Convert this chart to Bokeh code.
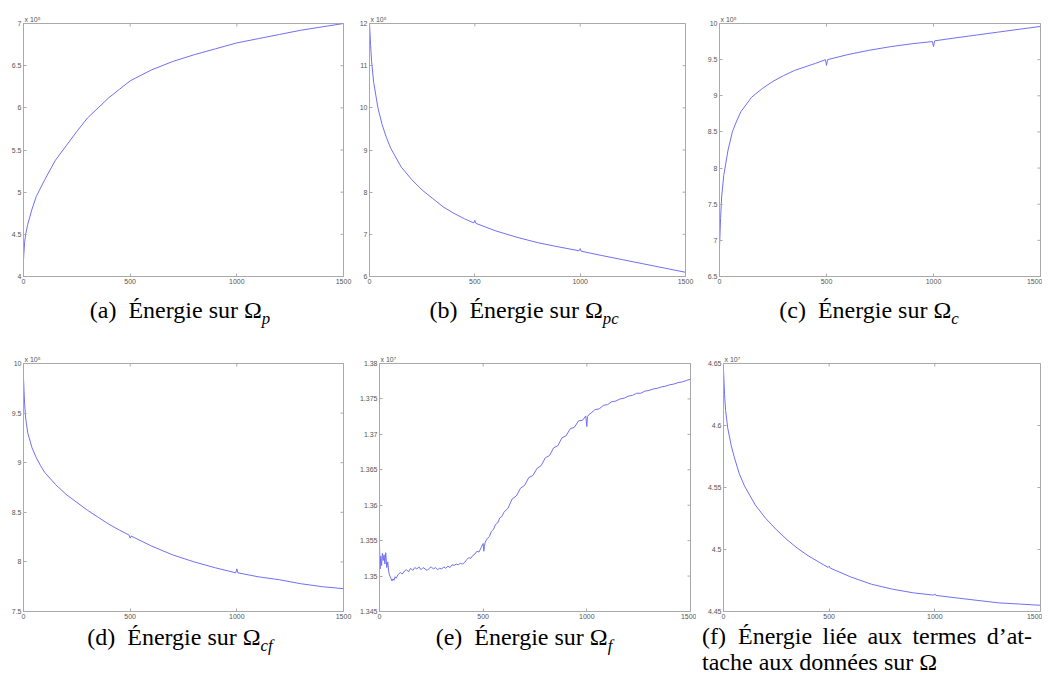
import math
from bokeh.plotting import figure
from bokeh.models import Range1d, FixedTicker, Div, Title
from bokeh.layouts import column, row
from bokeh.embed import file_html
from bokeh.resources import INLINE

# ---------------- data ----------------
x_ticks = [0, 500, 1000, 1500]

iters_a = [0, 5, 10, 20, 40, 60, 80, 100, 150, 200, 250, 300, 350, 400, 450, 500,
           600, 700, 800, 900, 1000, 1100, 1200, 1300, 1400, 1500]
energy_a = [4.2, 4.4, 4.5, 4.62, 4.8, 4.95, 5.05, 5.15, 5.38, 5.55, 5.72, 5.88, 6.0,
            6.12, 6.22, 6.32, 6.45, 6.55, 6.63, 6.7, 6.77, 6.82, 6.87, 6.92, 6.96, 7.0]
yticks_a = [4, 4.5, 5, 5.5, 6, 6.5, 7]

iters_b = [0, 5, 10, 20, 40, 60, 80, 100, 150, 200, 250, 300, 350, 400, 450, 495, 500, 505,
           600, 700, 800, 900, 995, 1000, 1005, 1100, 1200, 1300, 1400, 1500]
energy_b = [12.0, 11.5, 11.1, 10.6, 10.0, 9.6, 9.3, 9.05, 8.6, 8.3, 8.05, 7.85, 7.65, 7.5,
            7.37, 7.27, 7.33, 7.26, 7.08, 6.93, 6.8, 6.7, 6.61, 6.66, 6.6, 6.5, 6.4, 6.3, 6.2, 6.1]
yticks_b = [6, 7, 8, 9, 10, 11, 12]

iters_c = [0, 5, 10, 20, 40, 60, 80, 100, 150, 200, 250, 300, 350, 400, 450, 495, 500, 505,
           600, 700, 800, 900, 995, 1000, 1005, 1100, 1200, 1300, 1400, 1500]
energy_c = [6.9, 7.3, 7.6, 7.9, 8.25, 8.5, 8.65, 8.78, 8.98, 9.1, 9.2, 9.28, 9.35, 9.4,
            9.45, 9.5, 9.42, 9.5, 9.57, 9.63, 9.68, 9.72, 9.75, 9.68, 9.76, 9.8, 9.84, 9.88, 9.92, 9.96]
yticks_c = [6.5, 7, 7.5, 8, 8.5, 9, 9.5, 10]

iters_d = [0, 5, 10, 20, 40, 60, 80, 100, 150, 200, 250, 300, 350, 400, 450, 495, 500, 505,
           600, 700, 800, 900, 995, 1000, 1005, 1100, 1200, 1300, 1400, 1500]
energy_d = [9.85, 9.6, 9.45, 9.3, 9.15, 9.05, 8.97, 8.9, 8.78, 8.68, 8.6, 8.52, 8.45, 8.38,
            8.32, 8.27, 8.24, 8.26, 8.16, 8.07, 8.0, 7.94, 7.89, 7.93, 7.89, 7.85, 7.82, 7.78, 7.75, 7.73]
yticks_d = [7.5, 8, 8.5, 9, 9.5, 10]

iters_e = [0, 3, 6, 10, 14, 18, 22, 26, 30, 35, 40, 45, 50, 55, 60, 65, 70, 75, 80, 90,
           100, 110, 120, 130, 140, 150, 160, 170, 180, 190, 200, 210, 220, 230, 240, 250,
           260, 270, 280, 290, 300, 310, 320, 330, 340, 350, 360, 370, 380, 390, 400, 410,
           420, 430, 440, 450, 460, 470, 480, 490, 500, 503, 506, 510, 520, 530, 540, 550,
           560, 570, 580, 590, 600, 620, 640, 660, 680, 700, 720, 740, 760, 780, 800, 820,
           840, 860, 880, 900, 920, 940, 960, 980, 995, 1000, 1003, 1010, 1020, 1040, 1060,
           1080, 1100, 1120, 1140, 1160, 1180, 1200, 1220, 1240, 1260, 1280, 1300, 1320,
           1340, 1360, 1380, 1400, 1420, 1440, 1460, 1480, 1500]
energy_e = [1.3545, 1.3510, 1.3528, 1.3515, 1.3532, 1.3522, 1.3530, 1.3517, 1.3533, 1.3512,
            1.3520, 1.3505, 1.3500, 1.3497, 1.3493, 1.3496, 1.3494, 1.3499, 1.3497, 1.3502,
            1.3505, 1.3503, 1.3507, 1.3509, 1.3506, 1.3511, 1.3508, 1.3512, 1.3510, 1.3513,
            1.3509, 1.3512, 1.3510, 1.3508, 1.3511, 1.3513, 1.3510, 1.3512, 1.3509, 1.3511,
            1.3510, 1.3513, 1.3511, 1.3514, 1.3512, 1.3516, 1.3515, 1.3517, 1.3516, 1.3518,
            1.3517, 1.3519, 1.3523, 1.3526, 1.3525, 1.3529, 1.3531, 1.3535, 1.3534, 1.3540,
            1.3546, 1.3535, 1.3542, 1.3548, 1.3553, 1.3556, 1.3563, 1.3566, 1.3573, 1.3575,
            1.3582, 1.3584, 1.3590, 1.3596, 1.3609, 1.3613, 1.3624, 1.3628, 1.3639, 1.3642,
            1.3652, 1.3656, 1.3667, 1.3670, 1.3681, 1.3684, 1.3695, 1.3698, 1.3708, 1.3710,
            1.3719, 1.3720, 1.3726, 1.3711, 1.3725, 1.3728, 1.3730, 1.3735, 1.3736, 1.3741,
            1.3742, 1.3746, 1.3747, 1.3750, 1.3751, 1.3754, 1.3755, 1.3758, 1.3758, 1.3761,
            1.3762, 1.3764, 1.3765, 1.3767, 1.3768, 1.3770, 1.3771, 1.3773, 1.3774, 1.3776,
            1.3778]
yticks_e = [1.345, 1.35, 1.355, 1.36, 1.365, 1.37, 1.375, 1.38]

iters_f = [0, 5, 10, 20, 35, 50, 75, 100, 150, 200, 250, 300, 350, 400, 450, 495, 500, 505,
           600, 700, 800, 900, 995, 1000, 1005, 1100, 1200, 1300, 1400, 1500]
energy_f = [4.645, 4.625, 4.612, 4.598, 4.585, 4.575, 4.561, 4.551, 4.536, 4.525, 4.516,
            4.508, 4.501, 4.495, 4.490, 4.4855, 4.4865, 4.485, 4.478, 4.472, 4.468, 4.465,
            4.4632, 4.4642, 4.463, 4.461, 4.459, 4.457, 4.456, 4.455]
yticks_f = [4.45, 4.5, 4.55, 4.6, 4.65]

exp_labels = ["x 10\u2075", "x 10\u2075", "x 10\u2075", "x 10\u2075", "x 10\u2077", "x 10\u2077"]

captions = [
    "(a)&ensp;Énergie sur Ω<sub style='font-size:70%'><i>p</i></sub>",
    "(b)&ensp;Énergie sur Ω<sub style='font-size:70%'><i>pc</i></sub>",
    "(c)&ensp;Énergie sur Ω<sub style='font-size:70%'><i>c</i></sub>",
    "(d)&ensp;Énergie sur Ω<sub style='font-size:70%'><i>cf</i></sub>",
    "(e)&ensp;Énergie sur Ω<sub style='font-size:70%'><i>f</i></sub>",
    "(f)&ensp;Énergie liée aux termes d’at-",
    "tache aux données sur Ω",
]

# ---------------- styling ----------------
LINE = "#7070f2"
AX = "#a9a9a9"
LBL = "#555555"
SERIF = "'Liberation Serif', 'Times New Roman', serif"


def fmt(v):
    return f"{v:g}"


def panel(xs, ys, yticks, exp, w, h, bl, br, bt, bb):
    p = figure(width=w, height=h, x_range=Range1d(0, 1500),
               y_range=Range1d(yticks[0], yticks[-1]),
               output_backend="svg", toolbar_location=None,
               min_border_left=bl, min_border_right=br,
               min_border_top=bt, min_border_bottom=bb,
               background_fill_color="white", border_fill_color="white")
    p.title = Title(text=exp, align="left", text_font_size="7px",
                    text_font_style="normal", text_color=LBL,
                    text_font="Liberation Sans", standoff=1, offset=1)
    p.grid.visible = False
    p.outline_line_color = AX
    p.outline_line_width = 1
    for ax, ticks in ((p.xaxis[0], x_ticks), (p.yaxis[0], yticks)):
        ax.ticker = FixedTicker(ticks=ticks)
        ax.major_label_overrides = {t: fmt(t) for t in ticks}
        ax.axis_line_color = AX
        ax.major_tick_line_color = AX
        ax.minor_tick_line_color = None
        ax.major_tick_in = 3
        ax.major_tick_out = 0
        ax.major_label_standoff = 2
        ax.major_label_text_font_size = "7px"
        ax.major_label_text_font = "Liberation Sans"
        ax.major_label_text_color = LBL
    # mirrored ticks on the right and top edges of the box (clipped to the frame)
    p.scatter([x_ticks[-1]] * len(yticks), yticks, marker="dash", size=6,
              line_color=AX, line_width=1)
    p.scatter(x_ticks, [yticks[-1]] * len(x_ticks), marker="dash", size=6,
              angle=math.pi / 2, line_color=AX, line_width=1)
    p.line(xs, ys, line_color=LINE, line_width=1)
    return p


fa = panel(iters_a, energy_a, yticks_a, exp_labels[0], 344, 288, 14, 9, 15, 20)
fb = panel(iters_b, energy_b, yticks_b, exp_labels[1], 344, 288, 17, 11, 13, 14)
fc = panel(iters_c, energy_c, yticks_c, exp_labels[2], 346, 288, 23, 2, 15, 16)
fd = panel(iters_d, energy_d, yticks_d, exp_labels[3], 344, 285, 14, 9, 21, 9)
fe = panel(iters_e, energy_e, yticks_e, exp_labels[4], 344, 285, 27, 6, 25, 11)
ff = panel(iters_f, energy_f, yticks_f, exp_labels[5], 346, 285, 27, 2, 23, 12)


def cap(html, w, h):
    body = ("<div style=\"font-family:%s;font-size:24px;line-height:28px;"
            "text-align:center;width:%dpx;padding-top:0px;color:#000\">%s</div>") % (SERIF, w, html)
    return Div(text=body, width=w, height=h, margin=0)


ca = cap(captions[0], 344, 42)
cb = cap(captions[1], 344, 42)
cc = cap(captions[2], 346, 42)
cd = cap(captions[3], 344, 56)
ce = cap(captions[4], 344, 56)
cf_body = ("<div style=\"font-family:%s;font-size:24px;line-height:26px;width:336px;"
           "padding-left:6px;padding-top:0px;color:#000\">"
           "<div style='text-align:justify;text-align-last:justify'>%s</div>"
           "<div style='text-align:left'>%s</div></div>") % (SERIF, captions[5], captions[6])
cf = Div(text=cf_body, width=346, height=56, margin=0)

for f in (fa, fb, fc, fd, fe, ff):
    f.margin = 0

layout = column(row(fa, fb, fc, spacing=0), row(ca, cb, cc, spacing=0),
                row(fd, fe, ff, spacing=0), row(cd, ce, cf, spacing=0),
                spacing=0, margin=(8, 0, 0, 8))

open("out.html", "w").write(file_html(layout, INLINE))
